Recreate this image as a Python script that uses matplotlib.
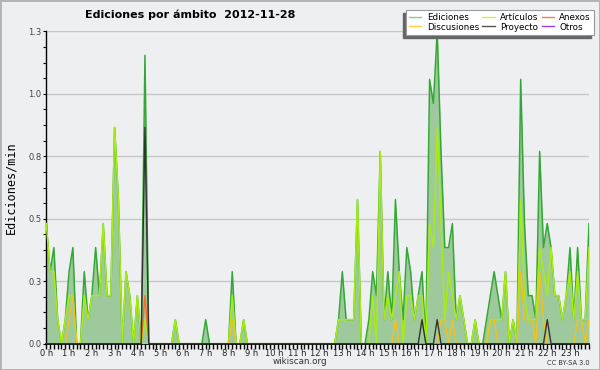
import numpy as np
import matplotlib
matplotlib.use("Agg")
import matplotlib.pyplot as plt
from matplotlib.lines import Line2D
from matplotlib.patches import Rectangle

# edits per minute, one value per 10-minute slot (144 slots, 00:00 .. 23:50)
ediciones = [
    0.5, 0.3, 0.4, 0.1, 0, 0.1, 0.3, 0.4, 0, 0, 0.3, 0.1,
    0.2, 0.4, 0.2, 0.5, 0.2, 0.2, 0.9, 0.6, 0, 0.3, 0.2, 0,
    0.2, 0, 1.2, 0, 0, 0, 0, 0, 0, 0, 0.1, 0,
    0, 0, 0, 0, 0, 0, 0.1, 0, 0, 0, 0, 0,
    0, 0.3, 0, 0, 0.1, 0, 0, 0, 0, 0, 0, 0,
    0, 0, 0, 0, 0, 0, 0, 0, 0, 0, 0, 0,
    0, 0, 0, 0, 0, 0.1, 0.3, 0.1, 0.1, 0.1, 0.6, 0,
    0, 0.1, 0.3, 0.2, 0.8, 0.1, 0.3, 0.1, 0.6, 0.3, 0.1, 0.4,
    0.3, 0.1, 0.2, 0.3, 0, 1.1, 1.0, 1.3, 0.8, 0.4, 0.4, 0.5,
    0.1, 0.2, 0.1, 0, 0, 0.1, 0, 0, 0.1, 0.2, 0.3, 0.2,
    0.1, 0.3, 0, 0.1, 0, 1.1, 0.5, 0.2, 0.2, 0.1, 0.8, 0.4,
    0.5, 0.4, 0.2, 0.2, 0.1, 0.2, 0.4, 0.1, 0.4, 0.1, 0.1, 0.5,
]
articulos = [
    0.5, 0.3, 0.3, 0.1, 0, 0.1, 0.2, 0.2, 0, 0, 0.2, 0.1,
    0.2, 0.2, 0.2, 0.5, 0.2, 0.2, 0.9, 0.6, 0, 0.3, 0.2, 0,
    0.2, 0, 0.1, 0, 0, 0, 0, 0, 0, 0, 0.1, 0,
    0, 0, 0, 0, 0, 0, 0, 0, 0, 0, 0, 0,
    0, 0.2, 0, 0, 0.1, 0, 0, 0, 0, 0, 0, 0,
    0, 0, 0, 0, 0, 0, 0, 0, 0, 0, 0, 0,
    0, 0, 0, 0, 0, 0.1, 0.1, 0.1, 0.1, 0.1, 0.6, 0,
    0, 0, 0.2, 0, 0.8, 0.1, 0.2, 0.1, 0.2, 0.3, 0, 0.2,
    0.2, 0.1, 0.2, 0.2, 0, 0.5, 0.4, 0.9, 0.5, 0.1, 0.3, 0.2,
    0.1, 0.2, 0.1, 0, 0, 0.1, 0, 0, 0, 0.1, 0.1, 0.1,
    0.1, 0.3, 0, 0.1, 0, 0.6, 0.2, 0.1, 0.1, 0.1, 0.4, 0.3,
    0.2, 0.4, 0.2, 0.2, 0.1, 0.2, 0.3, 0.1, 0.3, 0.1, 0.1, 0.4,
]
discusiones = [
    0, 0, 0, 0, 0, 0, 0.1, 0.2, 0, 0, 0, 0,
    0, 0, 0, 0, 0, 0, 0, 0, 0, 0, 0, 0,
    0, 0, 0, 0, 0, 0, 0, 0, 0, 0, 0, 0,
    0, 0, 0, 0, 0, 0, 0, 0, 0, 0, 0, 0,
    0, 0.1, 0, 0, 0, 0, 0, 0, 0, 0, 0, 0,
    0, 0, 0, 0, 0, 0, 0, 0, 0, 0, 0, 0,
    0, 0, 0, 0, 0, 0, 0, 0, 0, 0, 0, 0,
    0, 0, 0, 0, 0, 0, 0, 0, 0.1, 0, 0, 0,
    0, 0, 0, 0, 0, 0, 0, 0, 0.1, 0.1, 0, 0.1,
    0, 0, 0, 0, 0, 0, 0, 0, 0, 0.1, 0.1, 0,
    0, 0, 0, 0, 0, 0.3, 0.1, 0.1, 0.1, 0, 0.3, 0.1,
    0, 0, 0, 0, 0, 0, 0, 0, 0.1, 0.1, 0, 0.1,
]
proyecto = [0.0] * 144
proyecto[26] = 0.9
proyecto[99] = 0.1
proyecto[103] = 0.1
proyecto[132] = 0.1
anexos = [0.0] * 144
anexos[26] = 0.2
otros = [0.0] * 144

hour_labels = [f"{h} h" for h in range(24)]
title = "Ediciones por ámbito  2012-11-28"

bg = "#eeeff1"
fig = plt.figure(figsize=(6, 3.7), dpi=100, facecolor=bg,
                 edgecolor="#b4b4b4", linewidth=2)
ax = fig.add_axes([46.3 / 600, 1 - 343.7 / 370, (589 - 46.3) / 600, (343.7 - 31.3) / 370])
ax.set_facecolor(bg)

x = np.arange(len(ediciones))
ax.fill_between(x, ediciones, color="#9dc99d", lw=0, zorder=1)
ax.plot(x, ediciones, color="#34a834", lw=1.1, zorder=2)
ax.plot(x, articulos, color="#a8ec12", lw=1.1, zorder=3)
ax.plot(x, discusiones, color="#f2c21a", lw=1.0, zorder=4)
ax.plot(x, anexos, color="#ff6a26", lw=1.0, zorder=5)
ax.plot(x, otros, color="#9a3cf0", lw=1.0, zorder=2)
ax.plot(x, proyecto, color="#333333", lw=1.0, zorder=6)

ax.set_xlim(0, len(x) - 1)
ax.set_ylim(0, 1.3)
yt = np.linspace(0, 1.3, 6)
ax.set_yticks(yt)
ax.set_yticklabels([f"{v:.1f}" for v in yt])
ax.set_yticks(np.linspace(0, 1.3, 21), minor=True)
ax.set_xticks(x[::6])
ax.set_xticklabels(hour_labels)
ax.set_xticks(x, minor=True)
ax.grid(axis="y", color="#c8c8c8", lw=1)
ax.set_axisbelow(True)

for s in ["top", "right"]:
    ax.spines[s].set_visible(False)
ax.spines["left"].set_linewidth(1)
ax.spines["bottom"].set_linewidth(1.2)
ax.tick_params(axis="x", which="both", length=3.5, width=1, pad=0.5,
               labelsize=6, labelcolor="#222222")
ax.tick_params(axis="y", which="both", length=2.5, width=0.8, pad=1,
               labelsize=6, labelcolor="#444444")

ax.set_ylabel("Ediciones/min", family="DejaVu Sans Mono", fontsize=8.5, labelpad=8)

fig.text(85 / 600, 1 - 15 / 370, title, fontsize=8, fontweight="bold",
         va="center", ha="left")
fig.text(300 / 600, 1 - 362 / 370, "wikiscan.org", fontsize=6.3,
         color="#333333", ha="center", va="center")
fig.text(590 / 600, 1 - 363 / 370, "CC BY-SA 3.0", fontsize=4.8,
         color="#333333", ha="right", va="center")

handles = [
    Line2D([], [], color="#88cc88", lw=1),
    Line2D([], [], color="#ffd040", lw=1),
    Line2D([], [], color="#ccf040", lw=1),
    Line2D([], [], color="#555555", lw=1),
    Line2D([], [], color="#ff7a45", lw=1),
    Line2D([], [], color="#9a3cf0", lw=1),
]
names = ["Ediciones", "Discusiones", "Artículos", "Proyecto", "Anexos", "Otros"]
leg = fig.legend(handles, names, loc="upper right", ncol=3,
                 bbox_to_anchor=(594 / 600, 1 - 10 / 370), fontsize=6.3,
                 handlelength=1.4, handletextpad=0.6, columnspacing=0.4,
                 labelspacing=0.05, borderpad=0.35, borderaxespad=0,
                 fancybox=False, framealpha=1, edgecolor="#999999")
leg.get_frame().set_linewidth(0.8)
leg.set_zorder(6)

# shadow down-left of the legend box
fig.canvas.draw()
bb = leg.get_window_extent().transformed(fig.transFigure.inverted())
fig.patches.append(Rectangle((bb.x0 - 3 / 600, bb.y0 - 3 / 370), bb.width, bb.height,
                             transform=fig.transFigure, color="#666666", zorder=5))

fig.savefig("out.png", dpi=100, facecolor=bg)
